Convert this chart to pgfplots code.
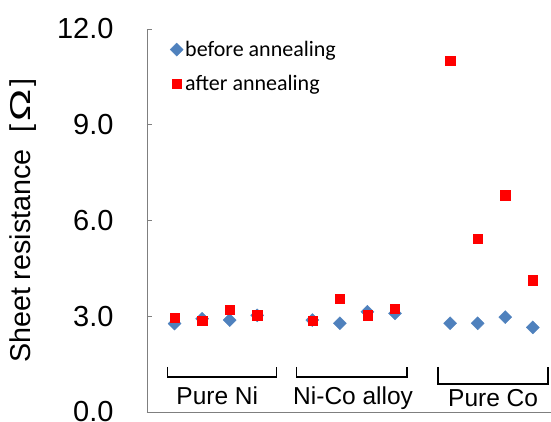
\documentclass[border=0pt]{standalone}
\usepackage{pgfplots}
\pgfplotsset{compat=1.18}
\usepackage{fontspec}
\setmainfont{Liberation Sans}
\newfontfamily\calib{Carlito}
\definecolor{myblue}{HTML}{4F81BD}
\definecolor{axgray}{HTML}{7F7F7F}
\begin{document}
\begin{tikzpicture}
\begin{axis}[
  scale only axis, width=404pt, height=383pt,
  xmin=0, xmax=14.66, ymin=0, ymax=12,
  axis x line=bottom, axis y line=left,
  axis line style={draw=axgray, line width=0.9pt, -},
  xtick=\empty,
  ytick={0,3,6,9,12},
  tick align=inside,
  major tick length=5pt,
  tick style={draw=axgray, line width=0.9pt},
  /pgf/number format/.cd, fixed, fixed zerofill, precision=1, assume math mode=true,
  /pgfplots/.cd,
  yticklabel style={font=\fontsize{29}{29}\selectfont, xshift=-30pt},
  ylabel={Sheet resistance\hspace{17pt}[\hspace{3pt}\scalebox{1.5}[1]{Ω}\hspace{3pt}]},
  every axis y label/.style={at={(rel axis cs:0,0.5)}, rotate=90, anchor=center, yshift=124pt, font=\fontsize{28.7}{28.7}\selectfont},
  clip=false,
  legend style={at={(rel axis cs:0,1)}, anchor=north west, xshift=20pt, yshift=-8pt, draw=none, fill=none,
     font=\calib\fontsize{22}{22}\selectfont, row sep=13pt},
  legend image code/.code={\draw[mark repeat=2, mark phase=2, #1] plot coordinates {(0cm,0cm) (0.3cm,0cm) (0.8cm,0cm)};},
  legend cell align=left,
]
\addplot[only marks, mark=square*, mark size=4.6pt, mark options={rotate=45, fill=myblue, draw=myblue}] coordinates {
 (1,2.77)(2,2.92)(3,2.88)(4,3.03)(6,2.88)(7,2.78)(8,3.14)(9,3.09)(11,2.78)(12,2.78)(13,2.97)(14,2.65)};
\addlegendentry{before annealing}
\addplot[only marks, mark=square*, mark size=4.6pt, mark options={fill=red, draw=red}] coordinates {
 (1,2.95)(2,2.87)(3,3.21)(4,3.03)(6,2.86)(7,3.55)(8,3.03)(9,3.23)(11,11.0)(12,5.42)(13,6.79)(14,4.13)};
\addlegendentry{after annealing}
\draw[black, line width=1.6pt] (axis cs:0.74,1.41) -- (axis cs:0.74,1.10) -- (axis cs:4.70,1.10) -- (axis cs:4.70,1.41);
\draw[black, line width=1.6pt] (axis cs:5.42,1.41) -- (axis cs:5.42,1.10) -- (axis cs:9.43,1.10) -- (axis cs:9.43,1.41);
\draw[black, line width=1.6pt] (axis cs:10.57,1.41) -- (axis cs:10.57,0.88) -- (axis cs:14.55,0.88) -- (axis cs:14.55,1.41);
\node[anchor=base, font=\fontsize{24.5}{24.5}\selectfont, inner sep=0pt] at (axis cs:2.55,0.22) {Pure Ni};
\node[anchor=base, font=\fontsize{24.5}{24.5}\selectfont, inner sep=0pt] at (axis cs:7.48,0.22) {Ni-Co alloy};
\node[anchor=base, font=\fontsize{24.5}{24.5}\selectfont, inner sep=0pt] at (axis cs:12.56,0.17) {Pure Co};
\coordinate (ll) at (rel axis cs:0,0);
\coordinate (ur) at (rel axis cs:1,1);
\end{axis}
\pgfresetboundingbox
\path ([xshift=-147pt,yshift=-10pt]ll) rectangle ([yshift=29pt]ur);
\end{tikzpicture}
\end{document}
